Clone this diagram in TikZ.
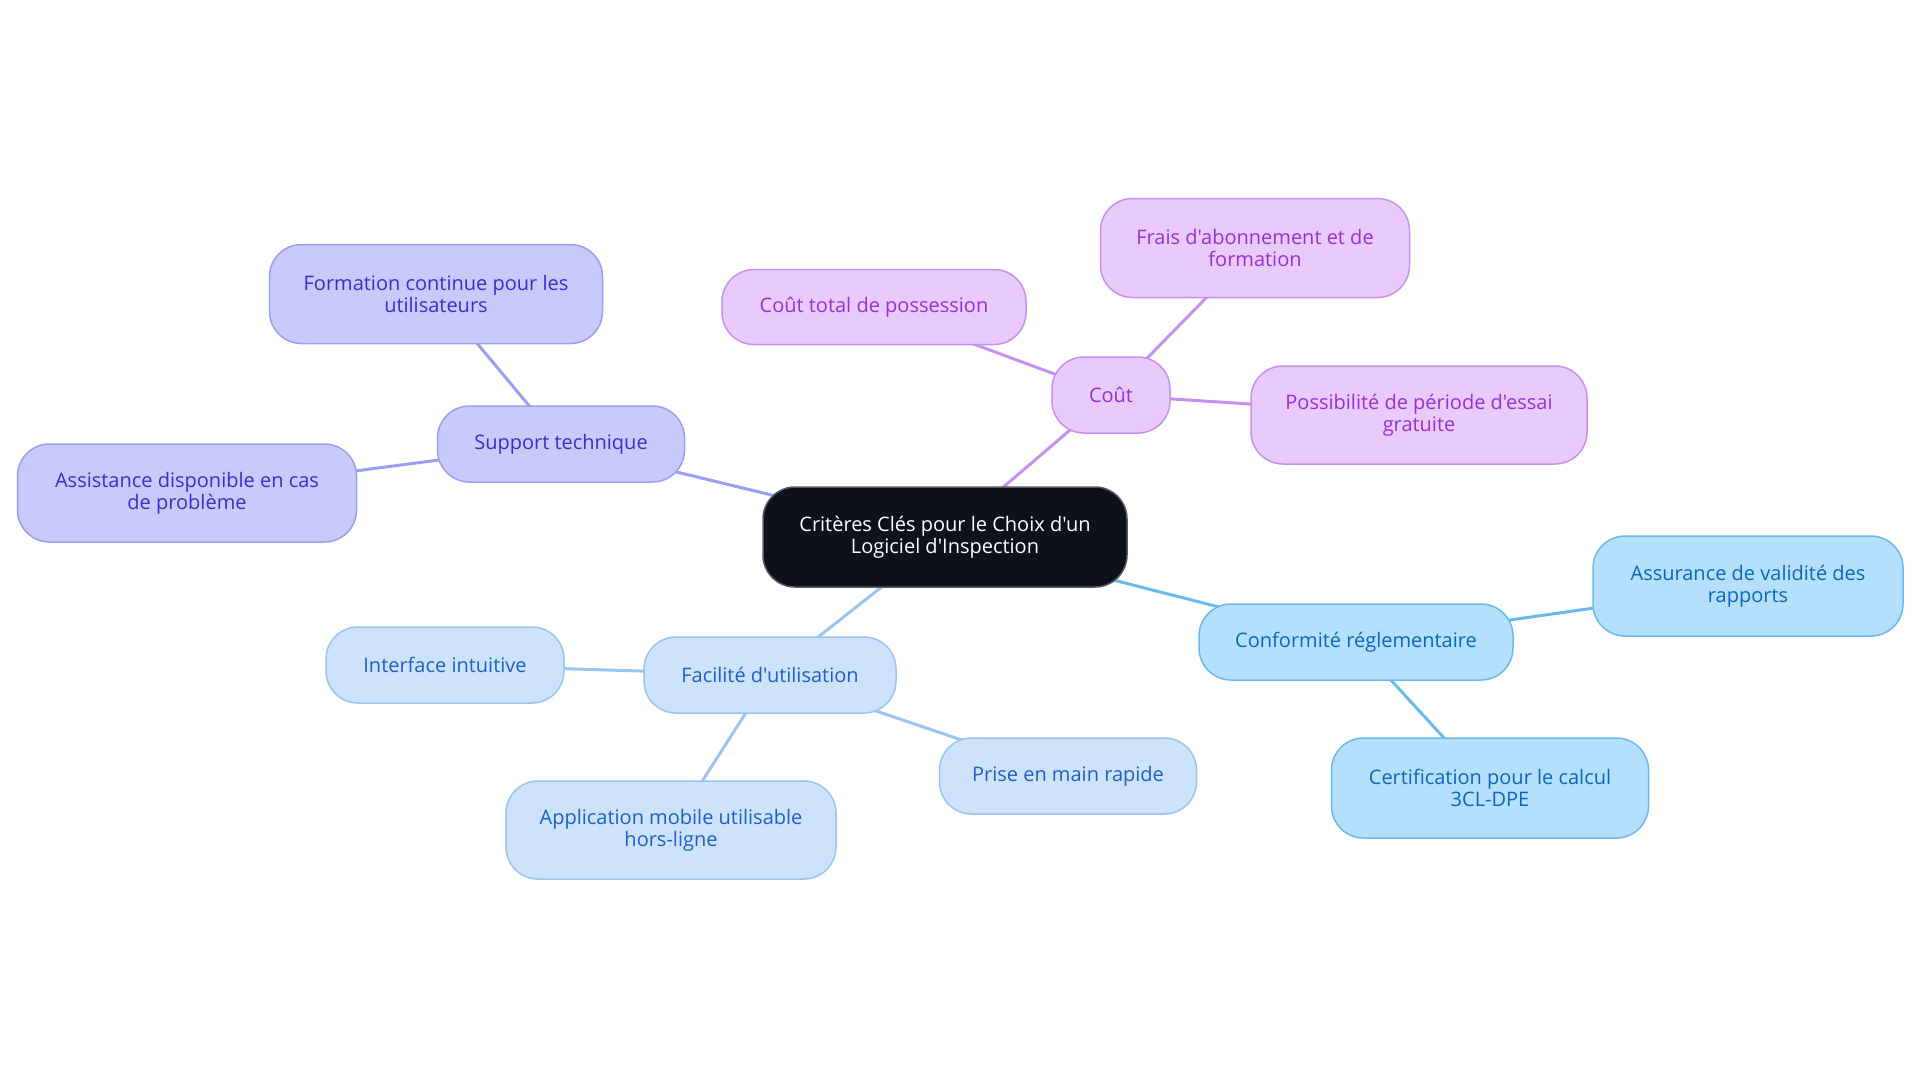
\documentclass[tikz,border=0pt]{standalone}
\usepackage{fontspec}
\setmainfont{Open Sans}[Ligatures=TeXOff]
\usetikzlibrary{backgrounds}
\definecolor{rootFill}{HTML}{0C111B}
\definecolor{costFill}{HTML}{E8CAFC}
\definecolor{costDraw}{HTML}{C890F0}
\definecolor{costText}{HTML}{9A2FD6}
\definecolor{suppFill}{HTML}{C8CAFC}
\definecolor{suppDraw}{HTML}{9C9EF2}
\definecolor{suppText}{HTML}{3A2ECF}
\definecolor{easeFill}{HTML}{CDE3FB}
\definecolor{easeDraw}{HTML}{9CC4F0}
\definecolor{easeText}{HTML}{1E5FC8}
\definecolor{confFill}{HTML}{B4E0FD}
\definecolor{confDraw}{HTML}{6CB9EE}
\definecolor{confText}{HTML}{0A66C0}
\tikzset{
  box/.style={rectangle,rounded corners=16pt,align=center,inner sep=0pt,
    line width=0.75pt,font=\fontsize{10}{11}\selectfont},
  size/.style 2 args={minimum width=#1*0.5pt,minimum height=#2*0.5pt},
  rootbox/.style={box,fill=rootFill,draw=rootFill!70!white,text=white},
  costbox/.style={box,fill=costFill,draw=costDraw,text=costText},
  suppbox/.style={box,fill=suppFill,draw=suppDraw,text=suppText},
  easebox/.style={box,fill=easeFill,draw=easeDraw,text=easeText},
  confbox/.style={box,fill=confFill,draw=confDraw,text=confText},
  link/.style={line width=1.5pt,draw=#1}
}

\begin{document}
\begin{tikzpicture}[x=0.5pt,y=-0.5pt]
  \useasboundingbox (0,0) rectangle (1920,1083);
  % root
  \node[rootbox,size={364}{100}] (root) at (945,537)
    {Critères Clés pour le Choix d'un\\Logiciel d'Inspection};
  % cost branch
  \node[costbox,size={118}{76}] (cost) at (1111,395) {Coût};
  \node[costbox,size={309}{99}] (fees) at (1255,248)
    {Frais d'abonnement et de\\formation};
  \node[costbox,size={304}{75}] (tco) at (874,307) {Coût total de possession};
  \node[costbox,size={336}{98}] (trial) at (1419,415)
    {Possibilité de période d'essai\\gratuite};
  % support branch
  \node[suppbox,size={247}{76}] (supp) at (561,444) {Support technique};
  \node[suppbox,size={333}{99}] (train) at (436,294)
    {Formation continue pour les\\utilisateurs};
  \node[suppbox,size={339}{98}] (help) at (187,493)
    {Assistance disponible en cas\\de problème};
  % ease branch
  \node[easebox,size={252}{76}] (ease) at (770,675) {Facilité d'utilisation};
  \node[easebox,size={238}{76}] (ui) at (445,665) {Interface intuitive};
  \node[easebox,size={330}{98}] (mobile) at (671,830)
    {Application mobile utilisable\\hors-ligne};
  \node[easebox,size={257}{76}] (quick) at (1068,776) {Prise en main rapide};
  % compliance branch
  \node[confbox,size={314}{76}] (conf) at (1356,642) {Conformité réglementaire};
  \node[confbox,size={310}{100}] (valid) at (1748,586)
    {Assurance de validité des\\rapports};
  \node[confbox,size={317}{100}] (cert) at (1490,788)
    {Certification pour le calcul\\3CL-DPE};
  % links
  \begin{scope}[on background layer]
    \draw[link=costDraw] (root.center) -- (cost.center);
    \draw[link=costDraw] (cost.center) -- (fees.center);
    \draw[link=costDraw] (cost.center) -- (tco.center);
    \draw[link=costDraw] (cost.center) -- (trial.center);
    \draw[link=suppDraw] (root.center) -- (supp.center);
    \draw[link=suppDraw] (supp.center) -- (train.center);
    \draw[link=suppDraw] (supp.center) -- (help.center);
    \draw[link=easeDraw] (root.center) -- (ease.center);
    \draw[link=easeDraw] (ease.center) -- (ui.center);
    \draw[link=easeDraw] (ease.center) -- (mobile.center);
    \draw[link=easeDraw] (ease.center) -- (quick.center);
    \draw[link=confDraw] (root.center) -- (conf.center);
    \draw[link=confDraw] (conf.center) -- (valid.center);
    \draw[link=confDraw] (conf.center) -- (cert.center);
  \end{scope}
\end{tikzpicture}
\end{document}
